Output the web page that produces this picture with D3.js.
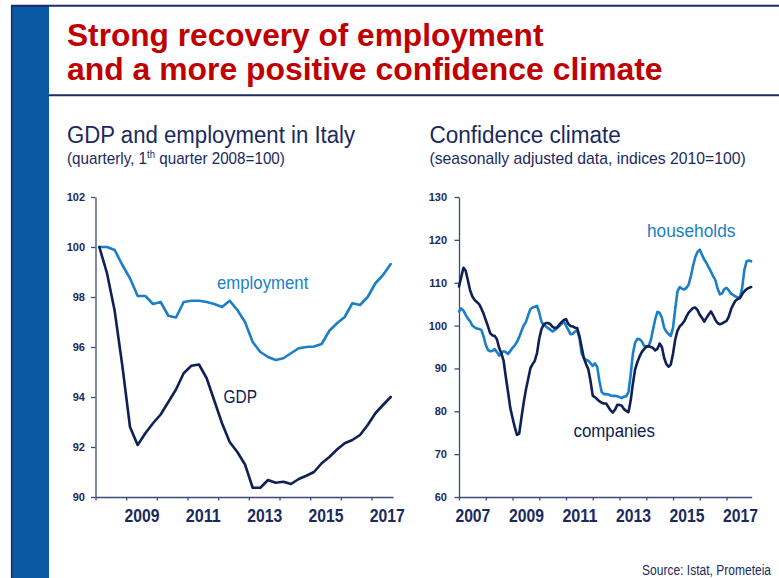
<!DOCTYPE html>
<html>
<head>
<meta charset="utf-8">
<script src="https://cdn.jsdelivr.net/npm/d3@7"></script>
<style>
  html, body { margin: 0; padding: 0; background: #ffffff; }
  svg { display: block; }
  text { font-family: "Liberation Sans", Arial, sans-serif; }
</style>
</head>
<body>
<svg id="chart" width="779" height="578"></svg>
<script>
// ---- Left panel: GDP and employment, quarterly, 2008Q1 = 100 ----
const firstQuarterYear = 2008;          // series start at 2008Q1
const gdp = [
  100, 98.95, 97.45, 95.25,
  92.8, 92.08, 92.55, 92.95,
  93.3, 93.8, 94.3, 94.95,
  95.25, 95.3, 94.75, 93.85,
  92.95, 92.2, 91.8, 91.3,
  90.37, 90.37, 90.68, 90.57,
  90.61, 90.52, 90.72, 90.85,
  91.0, 91.35, 91.6, 91.9,
  92.15, 92.28, 92.48, 92.88,
  93.35, 93.68, 94.0
];
const employment = [
  100.0, 100.0, 99.88, 99.28,
  98.75, 98.04, 98.04, 97.72,
  97.8, 97.25, 97.18, 97.8,
  97.85, 97.85, 97.8, 97.72,
  97.6, 97.85, 97.48, 97.0,
  96.2, 95.8, 95.6, 95.48,
  95.55, 95.75, 95.95, 96.0,
  96.02, 96.12, 96.65, 96.95,
  97.2, 97.75, 97.68, 98.0,
  98.55, 98.88, 99.32
];
const leftYTicks = [90, 92, 94, 96, 98, 100, 102];
const leftYearTicks = [2008, 2009, 2010, 2011, 2012, 2013, 2014, 2015, 2016, 2017];
const leftYearLabels = [2009, 2011, 2013, 2015, 2017];

// ---- Right panel: confidence climate, monthly, 2010 = 100 ----
const firstMonthYear = 2007;            // series start in January 2007
const companies = [
  109.1, 111.3, 113.5, 112.8, 110.5, 108.2, 106.8, 106.0, 105.5, 105.0, 104.0, 102.8,
  101.3, 99.8, 98.2, 97.7, 97.6, 96.8, 94.8, 93.5, 91.8, 88.0, 84.5, 80.8,
  78.5, 76.3, 74.5, 74.8, 78.5, 82.0, 85.0, 87.5, 90.0, 91.0, 91.8, 93.6,
  97.0, 99.2, 100.2, 100.6, 100.6, 100.3, 99.7, 99.4, 99.6, 100.2, 100.8, 101.3,
  101.5, 100.4, 99.9, 99.8, 99.5, 99.4, 97.6, 95.0, 92.4, 91.0, 89.8, 87.0,
  83.6, 83.3, 82.8, 82.3, 82.0, 81.8, 81.8, 81.0, 80.2, 79.7, 80.4, 81.5,
  81.5, 81.3, 80.5, 80.1, 79.8, 82.5, 86.5, 89.8, 91.5, 92.8, 93.8, 94.5,
  95.1, 95.2, 95.0, 94.8, 94.2, 94.6, 95.8, 95.0, 92.5, 91.0, 90.4, 90.9,
  93.5, 96.8, 98.8, 99.8, 100.3, 101.0, 102.1, 103.0, 103.6, 104.1, 104.2, 103.6,
  102.5, 101.8, 100.9, 101.8, 102.6, 103.3, 102.4, 101.3, 100.6, 100.3, 100.5, 100.8,
  101.1, 102.1, 103.8, 104.9, 105.8, 106.2, 106.4, 107.3, 108.0, 108.5, 108.8, 109.0
];
const households = [
  103.3, 104.0, 103.5, 102.5, 101.6, 101.0, 100.0, 99.6, 99.3, 99.2, 99.0, 97.5,
  95.5, 94.3, 94.0, 94.1, 94.5, 93.8, 93.0, 93.6, 94.0, 93.8, 93.4, 94.1,
  94.8, 95.4, 96.2, 97.3, 98.7, 100.0, 100.8, 102.4, 103.8, 104.2, 104.4, 104.6,
  103.0, 100.9, 100.1, 99.8, 99.4, 99.0, 98.6, 99.0, 99.4, 99.9, 100.4, 101.0,
  100.0, 99.0, 98.0, 98.1, 98.6, 98.9, 97.2, 93.5, 92.4, 92.0, 91.8, 91.2,
  90.6, 91.2, 90.3, 87.0, 84.5, 84.0, 84.0, 83.9, 83.7, 83.6, 83.6, 83.5,
  83.3, 83.1, 83.4, 83.5, 84.5, 88.5, 93.5, 96.0, 96.9, 96.8, 96.3, 95.3,
  95.0, 95.1, 96.5, 99.0, 101.5, 103.2, 103.0, 101.8, 99.5, 98.6, 98.0, 97.6,
  99.5, 104.0, 108.0, 109.0, 108.6, 108.4, 108.8, 109.6, 111.5, 114.0, 116.0, 117.2,
  117.7, 116.5, 115.4, 114.6, 113.6, 112.6, 111.5, 110.6, 108.6, 107.3, 107.5, 108.5,
  108.8, 108.2, 107.5, 107.1, 106.8, 106.6, 106.4, 108.8, 113.0, 115.0, 115.2, 115.0
];
const rightYTicks = [60, 70, 80, 90, 100, 110, 120, 130];
const rightYearTicks = [2007, 2008, 2009, 2010, 2011, 2012, 2013, 2014, 2015, 2016, 2017];
const rightYearLabels = [2007, 2009, 2011, 2013, 2015, 2017];

// ---- Palette ----
const NAVY = "#0e2056";
const BLUE = "#1a7fc7";
const RED = "#c00000";
const BAR = "#0a5aa3";
const RULE = "#1c2b6c";
const AXIS = "#3d4b78";
const INK = "#1a2a5e";

const W = 779, H = 578;
const svg = d3.select("#chart");

// Text helper: places a string at (x, baseline y) and stretches it horizontally to a given width
function fitText(parent, x, y, width, size, opts, build) {
  const t = parent.append("text")
    .attr("transform", `translate(${x},${y})`)
    .attr("font-size", size)
    .attr("font-weight", opts.weight || "normal")
    .attr("fill", opts.fill || INK);
  if (build) build(t); else t.text(opts.text);
  const w = t.node().getBBox().width;
  if (w > 0) t.attr("transform", `translate(${x},${y}) scale(${width / w},1)`);
  return t;
}

// ---- Page frame ----
svg.append("rect").attr("x", 0).attr("y", 0).attr("width", W).attr("height", H).attr("fill", "#fff");
svg.append("rect").attr("x", 11).attr("y", 6).attr("width", 38).attr("height", H - 6).attr("fill", BAR);
svg.append("line").attr("x1", 11.7).attr("x2", 11.7).attr("y1", 5).attr("y2", H)
  .attr("stroke", RULE).attr("stroke-width", 1.6);
svg.append("line").attr("x1", 11).attr("x2", W).attr("y1", 5.8).attr("y2", 5.8)
  .attr("stroke", RULE).attr("stroke-width", 2);
svg.append("line").attr("x1", 49).attr("x2", W).attr("y1", 95.3).attr("y2", 95.3)
  .attr("stroke", RULE).attr("stroke-width", 2);

fitText(svg, 67, 46, 477, 32, { text: "Strong recovery of employment", weight: "bold", fill: RED });
fitText(svg, 67, 79.5, 596, 32, { text: "and a more positive confidence climate", weight: "bold", fill: RED });

// ---- Panel headings ----
fitText(svg, 67, 142.5, 289, 24.5, { text: "GDP and employment in Italy", fill: INK });
fitText(svg, 67, 163.5, 218, 16, { fill: INK }, t => {
  t.append("tspan").text("(quarterly, 1");
  t.append("tspan").attr("font-size", 10).attr("dy", -6).text("th");
  t.append("tspan").attr("dy", 6).text(" quarter 2008=100)");
});
fitText(svg, 429.5, 142.5, 191.5, 24.5, { text: "Confidence climate", fill: INK });
fitText(svg, 429.5, 163.5, 316.5, 16, { text: "(seasonally adjusted data, indices 2010=100)", fill: INK });

fitText(svg, 642, 575, 130, 14.5, { text: "Source: Istat, Prometeia", fill: INK });

// ---- Axis styling shared by both panels ----
function styleAxis(g, fontSize) {
  g.select(".domain").attr("stroke", AXIS).attr("stroke-width", 1.3);
  g.selectAll(".tick line").attr("stroke", AXIS).attr("stroke-width", 1.3);
  g.selectAll(".tick text").attr("fill", INK).attr("font-weight", "bold")
    .attr("font-size", fontSize).attr("font-family", '"Liberation Sans", Arial, sans-serif');
}

function drawPanel(cfg) {
  const x = d3.scaleLinear().domain(cfg.xDomain).range(cfg.xRange);
  const y = d3.scaleLinear().domain(cfg.yDomain).range([497, 197]);
  const g = svg.append("g");

  // y axis
  const gy = g.append("g").attr("transform", `translate(${cfg.xRange[0]},0)`)
    .call(d3.axisLeft(y).tickValues(cfg.yTicks).tickSize(4.5).tickPadding(cfg.yPad).tickSizeOuter(0));
  styleAxis(gy, 11);

  // x axis: year boundary ticks
  const gx = g.append("g").attr("transform", "translate(0,497)")
    .call(d3.axisBottom(x).tickValues(cfg.yearTicks).tickSize(3.5).tickSizeOuter(0).tickFormat(""));
  styleAxis(gx, 16);

  // x axis: year labels centred on each year, in a condensed setting
  const gl = g.append("g").attr("transform", "translate(0,497)")
    .call(d3.axisBottom(x).tickValues(cfg.yearLabels.map(v => v + 0.5)).tickSize(0)
      .tickPadding(13).tickFormat(v => d3.format("d")(Math.floor(v))));
  gl.select(".domain").remove();
  styleAxis(gl, 17.5);
  gl.selectAll(".tick text").attr("textLength", 35).attr("lengthAdjust", "spacingAndGlyphs");

  // series
  cfg.series.forEach(s => {
    const line = d3.line()
      .x((d, i) => x(cfg.xOf(i)))
      .y(d => y(d))
      .curve(d3.curveLinear);
    g.append("path").datum(s.values)
      .attr("fill", "none").attr("stroke", s.color).attr("stroke-width", 2.6)
      .attr("stroke-linejoin", "round").attr("stroke-linecap", "round")
      .attr("d", line);
  });

  // inline series labels
  cfg.labels.forEach(l => fitText(svg, l.x, l.y, l.w, 19, { text: l.text, fill: l.color }));
}

drawPanel({
  xDomain: [2008, 2017.7], xRange: [95.5, 393],
  yDomain: [90, 102], yTicks: leftYTicks, yPad: 6,
  yearTicks: leftYearTicks, yearLabels: leftYearLabels,
  xOf: i => firstQuarterYear + i / 4 + 0.125,
  series: [
    { values: employment, color: BLUE },
    { values: gdp, color: NAVY }
  ],
  labels: [
    { text: "employment", x: 217, y: 289, w: 92, color: BLUE },
    { text: "GDP", x: 223.5, y: 402.5, w: 33.5, color: NAVY }
  ]
});

drawPanel({
  xDomain: [2007, 2017.94], xRange: [459, 751.7],
  yDomain: [60, 130], yTicks: rightYTicks, yPad: 7.5,
  yearTicks: rightYearTicks, yearLabels: rightYearLabels,
  xOf: i => firstMonthYear + i / 12,
  series: [
    { values: households, color: BLUE },
    { values: companies, color: NAVY }
  ],
  labels: [
    { text: "households", x: 647, y: 236.5, w: 88.5, color: BLUE },
    { text: "companies", x: 573.5, y: 437, w: 81.5, color: NAVY }
  ]
});
</script>
</body>
</html>
